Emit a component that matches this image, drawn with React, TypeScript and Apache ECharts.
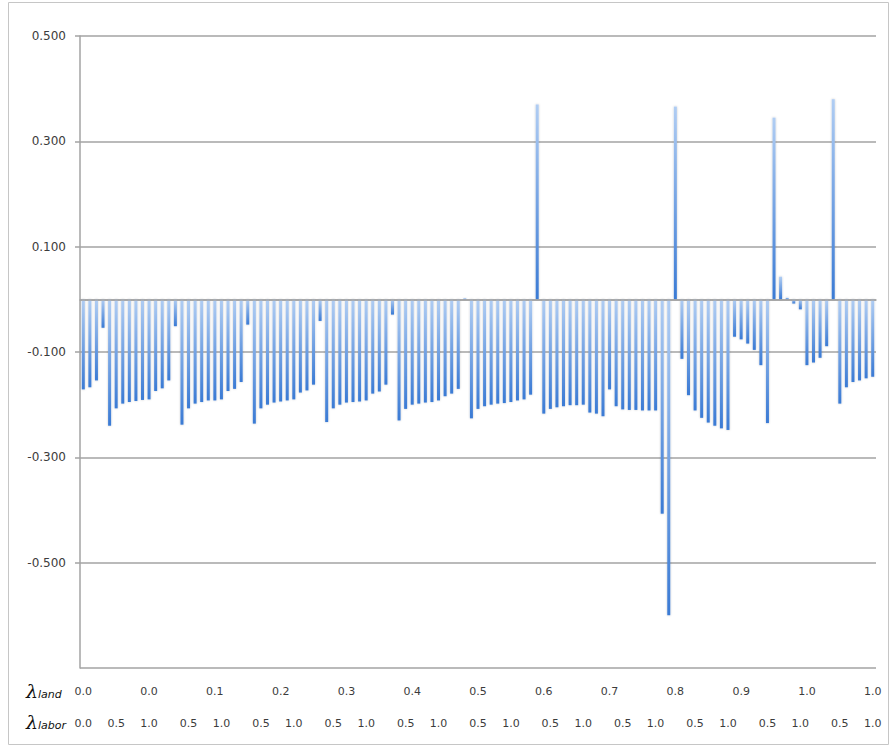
import React, { useEffect, useRef } from "react";
import * as echarts from "echarts";

// Bar values (121 categories)
const values: number[] = [
  -0.171, -0.167, -0.154, -0.054, -0.240, -0.207, -0.198, -0.195, -0.193, -0.191, -0.190,
  -0.174, -0.169, -0.154, -0.051, -0.238, -0.207, -0.198, -0.195, -0.192, -0.192, -0.190,
  -0.174, -0.170, -0.157, -0.048, -0.236, -0.207, -0.200, -0.196, -0.194, -0.192, -0.190,
  -0.177, -0.173, -0.162, -0.041, -0.233, -0.207, -0.200, -0.196, -0.195, -0.194, -0.192,
  -0.179, -0.175, -0.162, -0.029, -0.230, -0.208, -0.200, -0.198, -0.196, -0.195, -0.192,
  -0.184, -0.179, -0.170, 0.002, -0.226, -0.208, -0.203, -0.200, -0.198, -0.197, -0.195,
  -0.192, -0.190, -0.181, 0.370, -0.217, -0.208, -0.205, -0.203, -0.201, -0.201, -0.200,
  -0.215, -0.217, -0.222, -0.171, -0.203, -0.209, -0.210, -0.210, -0.211, -0.211, -0.211,
  -0.407, -0.600, 0.366, -0.113, -0.182, -0.211, -0.225, -0.234, -0.240, -0.245, -0.248,
  -0.071, -0.076, -0.084, -0.096, -0.125, -0.235, 0.345, 0.043, 0.003, -0.008, -0.019,
  -0.125, -0.120, -0.111, -0.089, 0.380, -0.198, -0.167, -0.157, -0.154, -0.150, -0.147,
];

const categories: string[] = values.map((_, i) => String(i + 1));

// Tick labels shown under the axis (first row: every 10th category)
const landTickLabels: string[] = ["0.0", "0.0", "0.1", "0.2", "0.3", "0.4", "0.5", "0.6", "0.7", "0.8", "0.9", "1.0", "1.0"];

// Second row: labels and the category indices they sit on
const laborTickLabels: string[] = [
  "0.0", "0.5", "1.0", "0.5", "1.0", "0.5", "1.0", "0.5", "1.0", "0.5", "1.0", "0.5",
  "1.0", "0.5", "1.0", "0.5", "1.0", "0.5", "1.0", "0.5", "1.0", "0.5", "1.0",
];
const laborTickIndex: number[] = [
  0, 5, 10, 16, 21, 27, 32, 38, 43, 49, 54, 60, 65, 71, 76, 82, 87, 93, 98, 104, 109, 115, 120,
];

const Y_MIN = -0.7;
const Y_MAX = 0.5;
const Y_STEP = 0.2;

const GRAY = "#a3a3a3";
const TEXT = "#3c3c3c";
const FONT = "DejaVu Sans";

export default function App() {
  const ref = useRef<HTMLDivElement>(null);

  useEffect(() => {
    if (!ref.current) return;
    const chart = echarts.init(ref.current, undefined, { renderer: "svg" });

    const barColor = new echarts.graphic.LinearGradient(0, 0, 0, 1, [
      { offset: 0, color: "#b0cdf3" },
      { offset: 1, color: "#3a7ad4" },
    ]);

    chart.setOption({
      animation: false,
      backgroundColor: "#ffffff",
      grid: { left: 80, right: 17, top: 36, bottom: 79, containLabel: false },
      xAxis: [
        {
          type: "category",
          data: categories,
          position: "bottom",
          axisLine: { show: true, lineStyle: { color: GRAY, width: 1.5 } },
          axisTick: { show: false },
          splitLine: { show: false },
          axisLabel: {
            interval: (i: number) => i % 10 === 0,
            formatter: (_v: string, i: number) => landTickLabels[i / 10] ?? "",
            color: TEXT,
            fontFamily: FONT,
            fontSize: 11,
            margin: 18,
          },
        },
        {
          type: "category",
          data: categories,
          position: "bottom",
          offset: 32,
          axisLine: { show: false },
          axisTick: { show: false },
          splitLine: { show: false },
          axisLabel: {
            interval: (i: number) => laborTickIndex.indexOf(i) >= 0,
            formatter: (_v: string, i: number) => {
              const k = laborTickIndex.indexOf(i);
              return k >= 0 ? laborTickLabels[k] : "";
            },
            color: TEXT,
            fontFamily: FONT,
            fontSize: 11,
            margin: 18,
          },
        },
      ],
      yAxis: {
        type: "value",
        min: Y_MIN,
        max: Y_MAX,
        interval: Y_STEP,
        axisLine: { show: true, lineStyle: { color: GRAY, width: 1.5 } },
        axisTick: { show: true, length: 5, lineStyle: { color: GRAY, width: 1.5 } },
        splitLine: { show: true, lineStyle: { color: GRAY, width: 1.5 } },
        axisLabel: {
          showMinLabel: false,
          formatter: (v: number) => (v < Y_MIN + 0.01 ? "" : v.toFixed(3)),
          color: TEXT,
          fontFamily: FONT,
          fontSize: 12,
          margin: 14,
        },
      },
      graphic: [
        {
          type: "rect",
          silent: true,
          shape: { x: 8.5, y: 2.5, width: 880, height: 742 },
          style: { fill: "none", stroke: "#c6c6c6", lineWidth: 1 },
        },
        { type: "text", x: 26, y: 700, style: { text: "λ", font: "italic 19px 'DejaVu Serif'", fill: "#111", verticalAlign: "bottom" } },
        { type: "text", x: 38, y: 700, style: { text: "land", font: "italic 11px 'DejaVu Sans'", fill: "#111", verticalAlign: "bottom" } },
        { type: "text", x: 26, y: 731, style: { text: "λ", font: "italic 19px 'DejaVu Serif'", fill: "#111", verticalAlign: "bottom" } },
        { type: "text", x: 38, y: 731, style: { text: "labor", font: "italic 11px 'DejaVu Sans'", fill: "#111", verticalAlign: "bottom" } },
      ],
      series: [
        {
          type: "bar",
          data: values,
          xAxisIndex: 0,
          barWidth: 3,
          itemStyle: { color: barColor, shadowColor: "rgba(0,0,0,0.22)", shadowBlur: 2 },
          markLine: {
            silent: true,
            symbol: "none",
            label: { show: false },
            lineStyle: { color: GRAY, width: 1.5, type: "solid" },
            data: [{ yAxis: 0 }],
          },
        },
      ],
    });

    return () => chart.dispose();
  }, []);

  return <div ref={ref} style={{ position: "absolute", left: 0, top: 0, width: 893, height: 747 }} />;
}
